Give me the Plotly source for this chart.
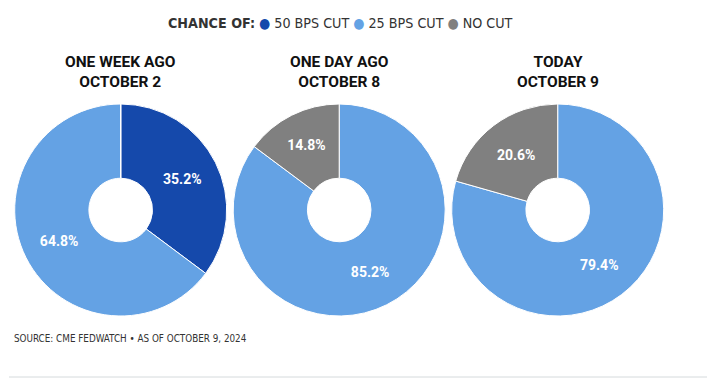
import plotly.graph_objects as go

W, H = 707, 379

series_names = ["50 BPS CUT", "25 BPS CUT", "NO CUT"]
colors = ["#1549ab", "#64a2e4", "#808080"]

panel_titles = ["ONE WEEK AGO", "ONE DAY AGO", "TODAY"]
panel_dates = ["OCTOBER 2", "OCTOBER 8", "OCTOBER 9"]

week_ago = [35.2, 64.8, 0.0]
day_ago = [0.0, 85.2, 14.8]
today = [0.0, 79.4, 20.6]
panels = [week_ago, day_ago, today]

source_text = "SOURCE: CME FEDWATCH • AS OF OCTOBER 9, 2024"

COND = "DejaVu Sans Condensed, Roboto, sans-serif"
TITLE_FONT = "Roboto, sans-serif"

centers_px = [120.7, 339.2, 557.7]
radius_px = 106
cy_px = 210

fig = go.Figure()
for i, vals in enumerate(panels):
    cx = centers_px[i]
    dom_x = [(cx - radius_px) / W, (cx + radius_px) / W]
    dom_y = [1 - (cy_px + radius_px) / H, 1 - (cy_px - radius_px) / H]
    labs = [f"{v:.1f}%" if v > 0 else "" for v in vals]
    fig.add_trace(go.Pie(
        labels=series_names, values=vals, text=labs,
        textinfo="text", textposition="inside", insidetextorientation="horizontal",
        hole=0.3, sort=False, direction="clockwise", rotation=0,
        marker=dict(colors=colors, line=dict(color="white", width=1)),
        textfont=dict(color="white", size=14, family="Roboto", weight="bold"),
        domain=dict(x=dom_x, y=dom_y), showlegend=False, hoverinfo="label+percent",
    ))
    fig.add_annotation(
        x=cx / W, y=1 - 71.5 / H, xref="paper", yref="paper",
        text=f"{panel_titles[i]}<br>{panel_dates[i]}",
        showarrow=False, xanchor="center", yanchor="middle",
        font=dict(family=TITLE_FONT, size=15.5, color="#111111", weight="bold"),
    )

legend_parts = ["<b>CHANCE OF:</b>"]
for n, c in zip(series_names, colors):
    legend_parts.append(f"<span style='color:{c}'>●</span> {n}")
fig.add_annotation(
    x=340 / W, y=1 - 23 / H, xref="paper", yref="paper",
    text=" ".join(legend_parts), showarrow=False, xanchor="center", yanchor="middle",
    font=dict(family=COND, size=14.2, color="#333333"),
)

fig.add_annotation(
    x=12 / W, y=1 - 338 / H, xref="paper", yref="paper",
    text=source_text, showarrow=False, xanchor="left", yanchor="middle",
    font=dict(family=COND, size=9.8, color="#333333"),
)

fig.add_shape(type="line", xref="paper", yref="paper",
              x0=9 / W, x1=1, y0=1 - 377 / H, y1=1 - 377 / H,
              line=dict(color="#d5dadc", width=1))

fig.update_layout(
    width=W, height=H, margin=dict(l=0, r=0, t=0, b=0),
    paper_bgcolor="white", plot_bgcolor="white",
)
fig.write_html("out.html", config={"displayModeBar": False},
               post_script="document.body.style.margin='0';document.body.style.overflow='hidden';")
